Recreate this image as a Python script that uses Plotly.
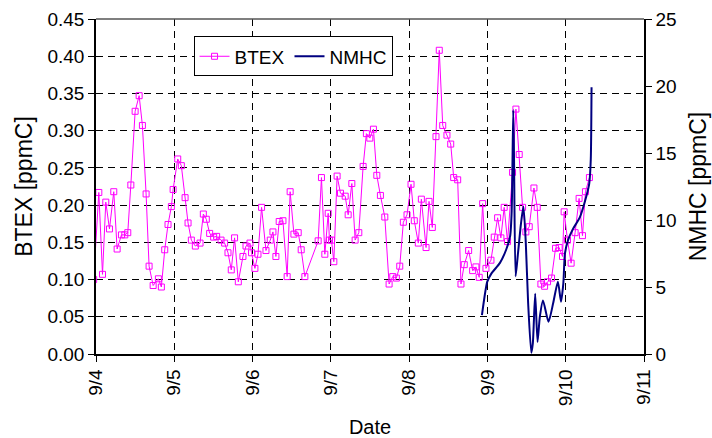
import pandas as pd
import plotly.graph_objects as go

# BTEX: days since 9/4 00:00 and values (ppmC)
btex_days = [-0.03, 0.036, 0.083, 0.125, 0.172, 0.227, 0.27, 0.325, 0.368, 0.406, 0.445, 0.50, 0.551,
             0.593, 0.64, 0.678, 0.73, 0.797, 0.835, 0.878, 0.92, 0.963, 0.985, 1.044, 1.09, 1.138,
             1.176, 1.218, 1.269, 1.329, 1.371, 1.409, 1.452, 1.503, 1.541, 1.597, 1.643, 1.686,
             1.728, 1.77, 1.818, 1.877, 1.916, 1.967, 1.987, 2.03, 2.069, 2.115, 2.171, 2.226, 2.26,
             2.298, 2.34, 2.388, 2.442, 2.48, 2.528, 2.583, 2.621, 2.668, 2.838, 2.88, 2.923, 2.966,
             2.982, 3.008, 3.038, 3.08, 3.123, 3.183, 3.221, 3.268, 3.31, 3.357, 3.412, 3.454, 3.498,
             3.544, 3.587, 3.633, 3.689, 3.744, 3.791, 3.837, 3.88, 3.926, 3.973, 4.024, 4.066, 4.117,
             4.156, 4.216, 4.254, 4.296, 4.343, 4.385, 4.429, 4.483, 4.531, 4.569, 4.62, 4.662, 4.704,
             4.76, 4.811, 4.853, 4.895, 4.939, 4.981, 5.045, 5.087, 5.13, 5.172, 5.214, 5.257, 5.321,
             5.364, 5.406, 5.449, 5.491, 5.534, 5.594, 5.636, 5.683, 5.73, 5.768, 5.819, 5.87, 5.916,
             5.959, 5.98, 6.023, 6.069, 6.12, 6.171, 6.214, 6.252, 6.303]
btex_vals = [0.100, 0.217, 0.107, 0.204, 0.168, 0.218, 0.141, 0.160, 0.160, 0.163, 0.227, 0.326, 0.347,
             0.307, 0.215, 0.118, 0.092, 0.101, 0.090, 0.140, 0.174, 0.198, 0.221, 0.262, 0.253, 0.210,
             0.176, 0.153, 0.145, 0.149, 0.188, 0.181, 0.162, 0.157, 0.158, 0.153, 0.149, 0.136,
             0.113, 0.156, 0.097, 0.131, 0.145, 0.149, 0.136, 0.115, 0.134, 0.197, 0.139, 0.153, 0.164,
             0.131, 0.178, 0.179, 0.104, 0.218, 0.161, 0.163, 0.140, 0.104, 0.152, 0.237, 0.134, 0.189,
             0.153, 0.153, 0.124, 0.239, 0.216, 0.212, 0.187, 0.229, 0.153, 0.163, 0.252, 0.296, 0.290,
             0.302, 0.240, 0.213, 0.184, 0.094, 0.104, 0.102, 0.118, 0.177, 0.187, 0.228, 0.179, 0.149,
             0.208, 0.143, 0.205, 0.170, 0.292, 0.408, 0.307, 0.294, 0.282, 0.237, 0.234, 0.094, 0.120,
             0.139, 0.112, 0.117, 0.103, 0.202, 0.115, 0.126, 0.157, 0.183, 0.156, 0.197, 0.151, 0.244,
             0.329, 0.268, 0.197, 0.164, 0.171, 0.223, 0.197, 0.094, 0.091, 0.097, 0.102, 0.142, 0.143,
             0.131, 0.191, 0.153, 0.122, 0.163, 0.209, 0.159, 0.218, 0.237]

# NMHC: days since 9/4 and values (ppmC)
nmhc_days = [4.93, 4.998, 5.05, 5.16, 5.24, 5.29, 5.31, 5.33, 5.34, 5.36, 5.39, 5.43, 5.46, 5.49,
             5.52, 5.56, 5.58, 5.61, 5.64, 5.67, 5.71, 5.78, 5.84, 5.90, 5.94, 5.97, 5.99, 6.03,
             6.09, 6.18, 6.26, 6.30, 6.32, 6.33]
nmhc_vals = [2.9, 5.4, 6.0, 6.8, 7.8, 8.8, 10.7, 18.2, 14.5, 5.8, 7.5, 9.8, 11.0, 8.3,
             3.8, 0.1, 0.8, 4.5, 0.9, 2.8, 4.0, 2.4, 3.8, 5.4, 3.9, 5.3, 7.5, 8.5,
             9.3, 10.2, 11.7, 12.7, 14.5, 19.9]

tick_labels = ["9/4", "9/5", "9/6", "9/7", "9/8", "9/9", "9/10", "9/11"]

base = pd.Timestamp("2008-09-04")
bx = base + pd.to_timedelta(btex_days, unit="D")
nx = base + pd.to_timedelta(nmhc_days, unit="D")
tick_vals = [base + pd.Timedelta(days=i) for i in range(len(tick_labels))]

FONT = "Liberation Sans, Arial, sans-serif"
XTFONT = dict(family=FONT, size=20, color="black")
YTFONT = dict(family=FONT, size=23, color="black")
fig = go.Figure()
fig.add_trace(go.Scatter(
    x=bx, y=btex_vals, name="BTEX", mode="lines+markers",
    line=dict(color="#FF00FF", width=1),
    marker=dict(symbol="square-open", size=6, color="#FF00FF", line=dict(width=1)),
    cliponaxis=True,
))
fig.add_trace(go.Scatter(
    x=nx, y=nmhc_vals, name="NMHC", mode="lines", yaxis="y2",
    line=dict(color="#000080", width=2, shape="spline", smoothing=0.6),
))

grid = dict(showgrid=True, gridcolor="black", gridwidth=1, griddash="7px,5px")
fig.update_layout(
    width=712, height=438,
    margin=dict(l=96, r=68, t=19, b=84),
    paper_bgcolor="white", plot_bgcolor="white",
    font=dict(family=FONT, size=19, color="black"),
    showlegend=True,
    legend=dict(orientation="h", x=0.178, y=0.948, xanchor="left", yanchor="top",
                bordercolor="black", borderwidth=1, bgcolor="white",
                font=dict(family=FONT, size=19), itemwidth=30, tracegroupgap=0),
    xaxis=dict(
        range=[tick_vals[0], tick_vals[-1]], tickvals=tick_vals, ticktext=tick_labels,
        tickangle=-90, ticks="outside", ticklen=6, tickcolor="black",
        tickfont=dict(family=FONT, size=19),
        showline=True, linecolor="black", linewidth=1.5, zeroline=False, automargin=False,
        title=dict(text="Date", standoff=18, font=XTFONT), **grid,
    ),
    yaxis=dict(
        range=[0, 0.45], dtick=0.05, tickformat=".2f", ticks="outside", ticklen=6,
        tickfont=dict(family=FONT, size=19),
        tickcolor="black", showline=True, linecolor="black", linewidth=1.5, zeroline=False,
        automargin=False,
        title=dict(text="BTEX [ppmC]", standoff=8, font=YTFONT), **grid,
    ),
    yaxis2=dict(
        overlaying="y", side="right", range=[0, 25], dtick=5, ticks="outside", ticklen=6,
        tickfont=dict(family=FONT, size=19),
        tickcolor="black", showline=True, linecolor="black", linewidth=1.5, showgrid=False,
        zeroline=False, automargin=False,
        title=dict(text="NMHC [ppmC]", standoff=14, font=YTFONT),
    ),
    shapes=[dict(type="line", xref="paper", yref="paper", x0=0, x1=1, y0=1, y1=1,
                 line=dict(color="#555555", width=1.5))],
)
fig.write_html("out.html")
